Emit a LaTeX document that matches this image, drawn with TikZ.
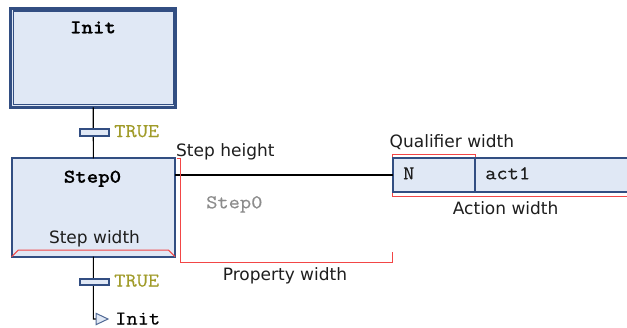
\documentclass[tikz,border=0pt]{standalone}
\usepackage{fontspec}
\newfontfamily\lab{DejaVu Sans}
\newfontfamily\rmono{Latin Modern Mono}[FakeStretch=1.12,FakeBold=0.4]
\newfontfamily\bmono{lmmonolt10-bold.otf}[FakeStretch=1.12,FakeBold=0.6]
\definecolor{boxfill}{RGB}{224,232,245}
\definecolor{boxline}{RGB}{50,78,130}
\definecolor{truecol}{RGB}{160,155,40}
\definecolor{grayt}{RGB}{140,140,140}
\definecolor{redc}{RGB}{242,70,70}
\definecolor{labc}{RGB}{30,30,30}
\newcommand\monosz{\fontsize{19.5pt}{20pt}\selectfont}
\newcommand\labsz{\fontsize{17pt}{18pt}\selectfont}
\tikzset{
  stepbox/.style={draw=boxline, fill=boxfill, line width=2pt, inner sep=0, outer sep=0},
  innerbox/.style={draw=boxline, line width=1.2pt, inner sep=0, outer sep=0},
  tbar/.style={draw=boxline, fill=boxfill, line width=1.8pt, minimum width=28.7pt, minimum height=6.7pt, inner sep=0, outer sep=0},
  actbox/.style={draw=boxline, fill=boxfill, line width=1.8pt, minimum height=33.4pt, inner sep=0, outer sep=0},
  conn/.style={draw=black, line width=1.1pt},
  redl/.style={draw=redc, line width=1pt},
  boldname/.style={anchor=base, inner sep=0, font=\bmono\monosz, text=black},
  truetxt/.style={anchor=base west, inner sep=0, font=\rmono\monosz, text=truecol},
  monotxt/.style={anchor=base west, inner sep=0, font=\rmono\monosz, text=labc},
  labtxt/.style={anchor=base west, inner sep=0, font=\lab\labsz, text=labc},
  jumptri/.style={draw=boxline!85, fill=boxfill, line width=1pt, line join=miter}
}
\begin{document}
\begin{tikzpicture}[x=1pt, y=-1pt]
\useasboundingbox (0,0) rectangle (627,327);
\clip (0,0) rectangle (627,327);
\fill[white] (0,0) rectangle (627,327);

% Init step (double border)
\node[stepbox, line width=2.5pt, minimum width=165pt, minimum height=99pt] (init) at (93.2,57.8) {};
\node[innerbox, minimum width=160pt, minimum height=93.7pt] (initin) at (93.3,57.85) {};
\node[boldname] (initlbl) at (93,33.3) {Init};

% Step0
\node[stepbox, minimum width=163.3pt, minimum height=98.4pt] (step0) at (93.35,207.5) {};
\node[boldname] (step0lbl) at (92.5,182.7) {Step0};
\node[labtxt, anchor=base] (swlbl) at (94.5,243.3) {Step width};
\draw[redl] (step0.south west) -- ++(6.6,-6.7) -- ++(150,0) -- (step0.south east);

% connector Init -> Step0 with transition
\draw[conn] (init.south) -- (step0.north);
\node[tbar] (t1) at (94.3,132.7) {};
\node[truetxt] (t1l) at (114,137) {TRUE};

% action block
\node[actbox, minimum width=82.3pt] (qual) at (433.85,175) {};
\node[actbox, anchor=west, minimum width=180pt] (act) at (qual.east) {};
\node[monotxt] (ql) at (403,179.3) {N};
\node[monotxt] (al) at (485,179.3) {act1};
\draw[conn] (step0.east |- qual.west) -- (qual.west);

% annotations
\node[labtxt] (shl) at (176,156.5) {Step height};
\node[monotxt, text=grayt] (pl) at (206,208.3) {Step0};
\node[labtxt, anchor=base] (pwl) at (285,280) {Property width};
\node[labtxt] (qwl) at (389.5,147.7) {Qualifier width};
\node[labtxt] (awl) at (452.7,214.3) {Action width};

\draw[redl] (176.5,158.3) -- (180,158.3) -- (180,262) -- (392.7,262) -- (392.7,251.7);
\draw[redl] (392.7,157) -- (392.7,154.3) -- (475,154.3) -- (475,157);
\draw[redl] (392.7,193) -- (392.7,196) -- (640,196);

% bottom transition and jump
\coordinate (jc) at (93.3,319);
\coordinate (jt) at (96,319);
\draw[conn] (step0.south) -- (jc) -- (jt);
\node[tbar] (t2) at (94.3,282) {};
\node[truetxt] (t2l) at (114,286.5) {TRUE};
\draw[jumptri] (jt) -- ++(0,-5.7) -- ++(12,5.7) -- ++(-12,5.7) -- cycle;
\node[monotxt, text=black] (jl) at (115,324.5) {Init};
\end{tikzpicture}
\end{document}
